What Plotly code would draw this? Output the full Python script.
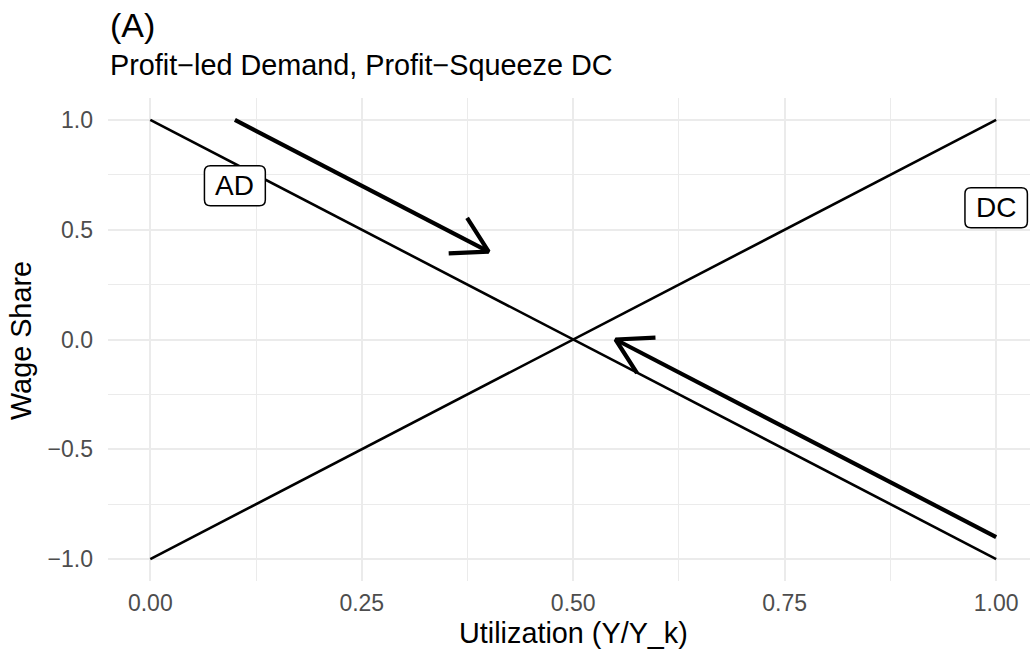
import math
import plotly.graph_objects as go

# Curves: aggregate demand (AD) and distribution curve (DC)
ad_x = [0.0, 1.0]
ad_y = [1.0, -1.0]
dc_x = [0.0, 1.0]
dc_y = [-1.0, 1.0]

# Adjustment arrows (start -> end)
arrow_x0 = [0.10, 1.00]
arrow_y0 = [1.00, -0.90]
arrow_x1 = [0.40, 0.55]
arrow_y1 = [0.40, 0.00]

# Curve labels
label_text = ["AD", "DC"]
label_x = [0.10, 1.00]
label_y = [0.70, 0.60]

# Axis ticks
x_ticks = [0.0, 0.25, 0.5, 0.75, 1.0]
x_ticktext = ["0.00", "0.25", "0.50", "0.75", "1.00"]
y_ticks = [-1.0, -0.5, 0.0, 0.5, 1.0]
y_ticktext = ["\u22121.0", "\u22120.5", "0.0", "0.5", "1.0"]

W, H = 1030, 652
M_L, M_R, M_T, M_B = 108, 0, 98, 71
X_RANGE = [-0.05, 1.04]
Y_RANGE = [-1.1, 1.1]
plot_w = W - M_L - M_R
plot_h = H - M_T - M_B
kx = plot_w / (X_RANGE[1] - X_RANGE[0])
ky = plot_h / (Y_RANGE[1] - Y_RANGE[0])

FONT = "Liberation Sans, Arial, sans-serif"
GRID = "#EBEBEB"

fig = go.Figure()

fig.add_trace(go.Scatter(x=ad_x, y=ad_y, mode="lines",
                         line=dict(color="black", width=2.6),
                         hoverinfo="skip", showlegend=False))
fig.add_trace(go.Scatter(x=dc_x, y=dc_y, mode="lines",
                         line=dict(color="black", width=2.6),
                         hoverinfo="skip", showlegend=False))

# Arrows: shaft plus an open head built in screen pixels
HEAD_LEN = 40.0
HEAD_ANG = math.radians(30)
for x0, y0, x1, y1 in zip(arrow_x0, arrow_y0, arrow_x1, arrow_y1):
    fig.add_trace(go.Scatter(x=[x0, x1], y=[y0, y1], mode="lines",
                             line=dict(color="black", width=4.2),
                             hoverinfo="skip", showlegend=False))
    theta = math.atan2((y1 - y0) * ky, (x1 - x0) * kx)
    hx, hy = [], []
    for sgn in (1, -1):
        a = theta + math.pi + sgn * HEAD_ANG
        hx.append(x1 + HEAD_LEN * math.cos(a) / kx)
        hy.append(y1 + HEAD_LEN * math.sin(a) / ky)
    fig.add_trace(go.Scatter(x=[hx[0], x1, hx[1]], y=[hy[0], y1, hy[1]],
                             mode="lines",
                             line=dict(color="black", width=4.2),
                             hoverinfo="skip", showlegend=False))

# Rounded label boxes with text
LABEL_SIZE = 28
CHAR_W = {"A": 0.667, "D": 0.722, "C": 0.722}


def rounded_rect(w, h, r):
    x0, x1 = -w / 2, w / 2
    y0, y1 = -h / 2, h / 2
    return (f"M{x0 + r},{y0} L{x1 - r},{y0} Q{x1},{y0} {x1},{y0 + r} "
            f"L{x1},{y1 - r} Q{x1},{y1} {x1 - r},{y1} L{x0 + r},{y1} "
            f"Q{x0},{y1} {x0},{y1 - r} L{x0},{y0 + r} Q{x0},{y0} {x0 + r},{y0} Z")


for txt, lx, ly in zip(label_text, label_x, label_y):
    tw = sum(CHAR_W.get(c, 0.6) for c in txt) * LABEL_SIZE
    bw, bh = tw + 22, 40
    fig.add_shape(type="path", path=rounded_rect(bw, bh, 6),
                  xref="x", yref="y", xsizemode="pixel", ysizemode="pixel",
                  xanchor=lx, yanchor=ly,
                  fillcolor="white", line=dict(color="black", width=1.5),
                  layer="above")
    fig.add_annotation(x=lx, y=ly, xref="x", yref="y", text=txt,
                       showarrow=False, xanchor="center", yanchor="middle",
                       font=dict(family=FONT, size=LABEL_SIZE, color="black"))


def paper_y(pix):
    return (H - M_B - pix) / plot_h


def paper_x(pix):
    return (pix - M_L) / plot_w


# Title and subtitle
fig.add_annotation(text="(A)", xref="paper", yref="paper",
                   x=0, y=paper_y(25), xanchor="left", yanchor="middle",
                   showarrow=False,
                   font=dict(family=FONT, size=34, color="black"))
fig.add_annotation(text="Profit\u2212led Demand, Profit\u2212Squeeze DC",
                   xref="paper", yref="paper",
                   x=0, y=paper_y(65), xanchor="left", yanchor="middle",
                   showarrow=False,
                   font=dict(family=FONT, size=28.8, color="black"))

# Axis titles
fig.add_annotation(text="Utilization (Y/Y_k)", xref="x", yref="paper",
                   x=0.5, y=paper_y(633), xanchor="center", yanchor="middle",
                   showarrow=False,
                   font=dict(family=FONT, size=28.8, color="black"))
fig.add_annotation(text="Wage Share", xref="paper", yref="paper",
                   x=paper_x(21), y=paper_y(341), xanchor="center",
                   yanchor="middle", textangle=-90, showarrow=False,
                   font=dict(family=FONT, size=28.8, color="black"))

fig.update_layout(
    width=W, height=H,
    margin=dict(l=M_L, r=M_R, t=M_T, b=M_B, pad=0),
    paper_bgcolor="white", plot_bgcolor="white",
    showlegend=False,
    xaxis=dict(range=X_RANGE, tickvals=x_ticks, ticktext=x_ticktext,
               showgrid=True, gridcolor=GRID, gridwidth=2.2,
               zeroline=False, showline=False, ticks="",
               ticklabelstandoff=6,
               tickfont=dict(family=FONT, size=23, color="#4D4D4D"),
               minor=dict(tickvals=[0.125, 0.375, 0.625, 0.875],
                          showgrid=True, gridcolor=GRID, gridwidth=1.4),
               fixedrange=True),
    yaxis=dict(range=Y_RANGE, tickvals=y_ticks, ticktext=y_ticktext,
               showgrid=True, gridcolor=GRID, gridwidth=2.2,
               zeroline=False, showline=False, ticks="",
               ticklabelstandoff=14,
               tickfont=dict(family=FONT, size=23, color="#4D4D4D"),
               minor=dict(tickvals=[-0.75, -0.25, 0.25, 0.75],
                          showgrid=True, gridcolor=GRID, gridwidth=1.4),
               fixedrange=True),
)

fig.write_html("out.html")
